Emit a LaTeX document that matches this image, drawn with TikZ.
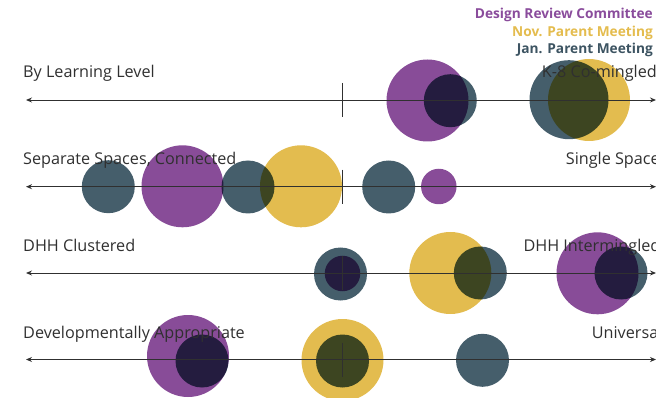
\documentclass[tikz,border=0pt]{standalone}
\usepackage{fontspec}
\setmainfont{Open Sans}
\usetikzlibrary{arrows.meta}
\definecolor{cpurple}{HTML}{884C98}
\definecolor{cyellow}{HTML}{E3BC4F}
\definecolor{cslate}{HTML}{455E6B}
\definecolor{lpurple}{HTML}{8A4C9C}
\definecolor{lyellow}{HTML}{E4BC4E}
\definecolor{lslate}{HTML}{3D5462}
\definecolor{ink}{HTML}{303030}
\begin{document}
\begin{tikzpicture}[x=1pt,y=-1pt,
  big/.style={circle,inner sep=0pt,minimum size=82pt,fill=#1},
  mid/.style={circle,inner sep=0pt,minimum size=53pt,fill=#1},
  small/.style={circle,inner sep=0pt,minimum size=35.5pt,fill=#1},
  axis/.style={draw=ink,line width=0.9pt,{Stealth[length=6pt,width=5pt]}-{Stealth[length=6pt,width=5pt]}},
  tick/.style={draw=ink,line width=0.9pt},
  lab/.style={anchor=base west,inner sep=0pt,text=ink,font=\fontsize{16.2}{19}\selectfont},
  leg/.style={anchor=base east,inner sep=0pt,font=\bfseries\fontsize{13.7}{16}\selectfont}]
\useasboundingbox (0,0) rectangle (656,398);
\clip (0,0) rectangle (656,398);
% bubbles
\begin{scope}[blend mode=multiply]
% row 1
\node[big=cpurple] (r1a) at (427.5,100.5) {};
\node[mid=cslate] (r1b) at (450.3,100.7) {};
\node[big=cslate,minimum size=79pt] (r1c) at (569,99.7) {};
\node[big=cyellow] (r1d) at (589,100) {};
% row 2
\node[mid=cslate] (r2a) at (108.3,186.7) {};
\node[big=cpurple] (r2b) at (182.5,186.3) {};
\node[mid=cslate] (r2c) at (248,187) {};
\node[big=cyellow] (r2d) at (301,186.3) {};
\node[mid=cslate] (r2e) at (388.7,187) {};
\node[small=cpurple] (r2f) at (438.8,186.5) {};
% row 3
\node[mid=cslate] (r3a) at (340.5,274) {};
\node[small=cpurple] (r3b) at (342.5,273.5) {};
\node[big=cyellow] (r3c) at (450.3,273) {};
\node[mid=cslate] (r3d) at (480.3,273) {};
\node[big=cpurple] (r3e) at (597.5,273.3) {};
\node[mid=cslate] (r3f) at (621,273) {};
% row 4
\node[big=cpurple] (r4a) at (188,356) {};
\node[mid=cslate] (r4b) at (202,361) {};
\node[big=cyellow] (r4c) at (342.5,360) {};
\node[mid=cslate] (r4d) at (342.5,361) {};
\node[mid=cslate] (r4e) at (482.5,360.3) {};
\end{scope}
% axes
\foreach \i/\y in {1/100,2/186.7,3/273,4/359.5}{
  \coordinate (L\i) at (26,\y);
  \coordinate (R\i) at (656,\y);
  \coordinate (T\i) at (342.3,\y-17);
  \coordinate (B\i) at (342.3,\y+17);
  \path[axis] (L\i) -- (R\i);
  \path[tick] (T\i) -- (B\i);
}
% labels
\node[lab] (l1) at (23,78) {By Learning Level};
\node[lab] (l2) at (23,165) {Separate Spaces, Connected};
\node[lab] (l3) at (23,251.5) {DHH Clustered};
\node[lab] (l4) at (23,338) {Developmentally Appropriate};
\node[lab] (q1) at (541.7,78) {K-8 Co-mingled};
\node[lab] (q2) at (565.7,165) {Single Space};
\node[lab] (q3) at (523.3,251.5) {DHH Intermingled};
\node[lab] (q4) at (591.7,338) {Universal};
% legend
\node[leg,text=lpurple] (g1) at (653,19) {Design Review Committee};
\node[leg,text=lyellow] (g2) at (653,36.5) {Nov. Parent Meeting};
\node[leg,text=lslate] (g3) at (653,54) {Jan. Parent Meeting};
\end{tikzpicture}
\end{document}
